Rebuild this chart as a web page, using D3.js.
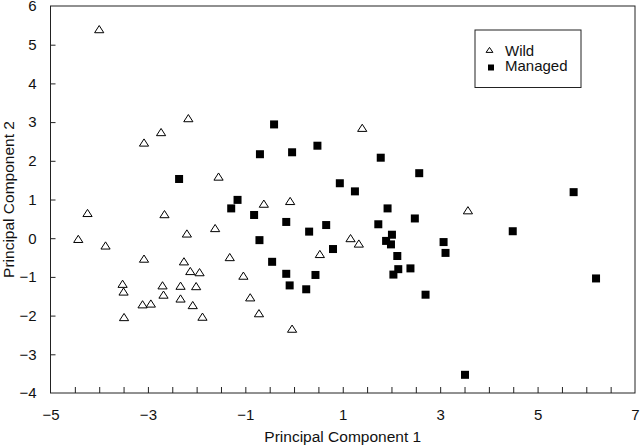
<!DOCTYPE html>
<html>
<head>
<meta charset="utf-8">
<script src="https://cdn.jsdelivr.net/npm/d3@7"></script>
<style>
  body { margin: 0; background: #fff; }
  text { font-family: "Liberation Sans", Arial, sans-serif; fill: #111; }
</style>
</head>
<body>
<div id="chart"></div>
<script>
// wild samples (principal component 1, principal component 2)
const wildX = [-4.0, -2.17, -2.73, -3.08, -1.55, -4.24, -2.66, -4.43, -3.87, -3.08,
    -2.20, -1.62, -2.26, -2.13, -1.94, -3.52, -3.50, -2.70, -2.33, -2.01,
    -2.68, -2.33, -3.11, -2.94, -2.08, -3.49, -1.88, -0.62, -0.08, -1.32,
    -1.04, -0.90, -0.72, -0.04, 0.53, 1.16, 1.33, 1.40, 3.57];
const wildY = [5.40, 3.10, 2.74, 2.47, 1.59, 0.65, 0.62, -0.02, -0.19, -0.53,
    0.12, 0.26, -0.60, -0.85, -0.88, -1.18, -1.38, -1.22, -1.23, -1.24,
    -1.46, -1.56, -1.71, -1.69, -1.73, -2.04, -2.03, 0.89, 0.96, -0.49,
    -0.97, -1.53, -1.94, -2.34, -0.41, 0.00, -0.14, 2.85, 0.72];

// managed samples
const managedX = [-2.36, -1.16, -1.29, -0.82, -0.71, -0.45, -0.16, -0.09, 0.25, 0.44,
    0.80, 0.66, 0.31, -0.16, -0.41, -0.70, -0.04, 0.48, 0.94, 1.25,
    1.78, 2.57, 1.92, 2.48, 1.73, 2.01, 1.89, 1.99, 2.12, 2.14,
    2.04, 2.39, 2.70, 3.07, 3.11, 3.51, 4.49, 5.74, 6.20];
const managedY = [1.53, 0.99, 0.77, 0.60, -0.05, -0.61, -0.92, -1.22, -1.32, -0.95,
    -0.28, 0.34, 0.17, 0.42, 2.94, 2.17, 2.22, 2.39, 1.42, 1.21,
    2.08, 1.68, 0.77, 0.51, 0.36, 0.09, -0.07, -0.16, -0.46, -0.80,
    -0.94, -0.78, -1.46, -0.10, -0.38, -3.53, 0.18, 1.19, -1.04];

const xTicks = d3.range(-5, 7.01, 0.5);
const xLabels = [-5, -3, -1, 1, 3, 5, 7];
const yTicks = d3.range(-4, 6.01, 1);
const seriesNames = ["Wild", "Managed"];

const width = 640, height = 447;
const marginTop = 6, marginRight = 5, marginBottom = 54, marginLeft = 50.5;

const svg = d3.select("#chart").append("svg")
    .attr("width", width)
    .attr("height", height);

const x = d3.scaleLinear().domain([-5, 7]).range([marginLeft, width - marginRight]);
const y = d3.scaleLinear().domain([-4, 6]).range([height - marginBottom, marginTop]);

const tri = "M0,-3.7L4.6,3.5L-4.6,3.5Z";

// x axis, inward ticks every 0.5
svg.append("g")
    .attr("transform", `translate(0,${height - marginBottom})`)
    .call(d3.axisBottom(x)
        .tickValues(xTicks)
        .tickSizeInner(-6).tickSizeOuter(0).tickPadding(16.5)
        .tickFormat(d => xLabels.includes(d) ? d3.format("")(d) : ""))
    .call(g => g.select(".domain").remove())
    .call(g => g.selectAll(".tick line").attr("stroke", "#222")
        .filter(d => d === -5 || d === 7).remove())
    .call(g => g.selectAll(".tick text").attr("font-size", 15).attr("font-family", null));

// y axis
svg.append("g")
    .attr("transform", `translate(${marginLeft},0)`)
    .call(d3.axisLeft(y)
        .tickValues(yTicks)
        .tickSizeInner(-5).tickSizeOuter(0).tickPadding(14)
        .tickFormat(d3.format("")))
    .call(g => g.select(".domain").remove())
    .call(g => g.selectAll(".tick line").attr("stroke", "#222")
        .filter(d => d === -4 || d === 6).remove())
    .call(g => g.selectAll(".tick text").attr("font-size", 15).attr("font-family", null));

// frame
svg.append("rect")
    .attr("x", x(-5)).attr("y", y(6))
    .attr("width", x(7) - x(-5)).attr("height", y(-4) - y(6))
    .attr("fill", "none").attr("stroke", "#222").attr("stroke-width", 1);

// axis titles
svg.append("text")
    .attr("x", (x(-5) + x(7)) / 2).attr("y", 442)
    .attr("text-anchor", "middle").attr("font-size", 15.5)
    .text("Principal Component 1");

svg.append("text")
    .attr("transform", `translate(13.5,${(y(6) + y(-4)) / 2}) rotate(-90)`)
    .attr("text-anchor", "middle").attr("font-size", 15.5)
    .text("Principal Component 2");

// points
svg.append("g").selectAll("path")
    .data(wildX.map((d, i) => [d, wildY[i]]))
    .join("path")
    .attr("d", tri)
    .attr("transform", d => `translate(${x(d[0])},${y(d[1])})`)
    .attr("fill", "#fff").attr("stroke", "#000").attr("stroke-width", 1);

svg.append("g").selectAll("rect")
    .data(managedX.map((d, i) => [d, managedY[i]]))
    .join("rect")
    .attr("x", d => x(d[0]) - 4).attr("y", d => y(d[1]) - 4)
    .attr("width", 8).attr("height", 8)
    .attr("fill", "#000");

// legend
const legend = svg.append("g").attr("transform", "translate(475,30)");
legend.append("rect")
    .attr("width", 106).attr("height", 57.5)
    .attr("fill", "#fff").attr("stroke", "#222");
legend.append("path")
    .attr("d", "M0,-2.6L3.4,2.4L-3.4,2.4Z")
    .attr("transform", "translate(14.5,20)")
    .attr("fill", "#fff").attr("stroke", "#000");
legend.append("rect")
    .attr("x", 13).attr("y", 34.5).attr("width", 6).attr("height", 6)
    .attr("fill", "#000");
legend.selectAll("text.lab")
    .data(seriesNames).join("text")
    .attr("class", "lab")
    .attr("x", 30).attr("y", (d, i) => 25.5 + i * 15)
    .attr("font-size", 15)
    .text(d => d);
</script>
</body>
</html>
